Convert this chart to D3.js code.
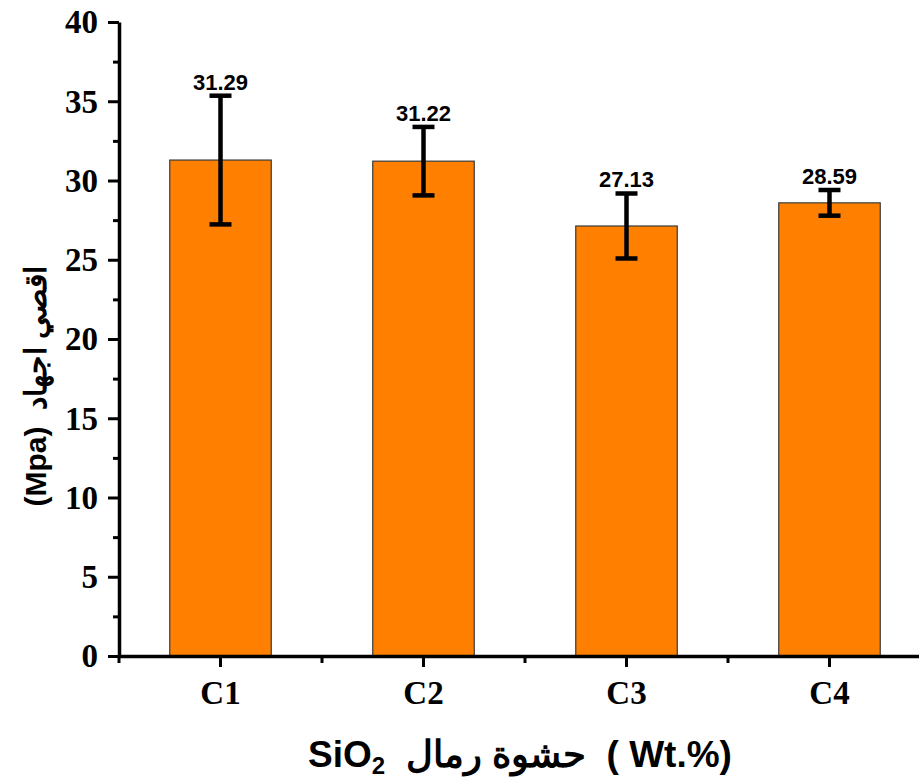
<!DOCTYPE html>
<html>
<head>
<meta charset="utf-8">
<script src="https://cdn.jsdelivr.net/npm/d3@7"></script>
<style>
  html, body { margin: 0; padding: 0; background: #fff; }
  svg { display: block; }
</style>
</head>
<body>
<svg id="chart" width="919" height="782"></svg>
<script>
// ---- data ----
const categories = ["C1", "C2", "C3", "C4"];
const values = [31.29, 31.22, 27.13, 28.59];
const errors = [4.06, 2.16, 2.05, 0.81];
const valueLabels = ["31.29", "31.22", "27.13", "28.59"];
const yTicks = [0, 5, 10, 15, 20, 25, 30, 35, 40];
const yMinorTicks = [2.5, 7.5, 12.5, 17.5, 22.5, 27.5, 32.5, 37.5];
const xTitleArabic = "حشوة رمال";
const yTitleArabic = "اقصي اجهاد";

// ---- layout ----
const svg = d3.select("#chart");
const x = d3.scaleBand().domain(categories).range([119, 931]).paddingInner(0.5).paddingOuter(0.25);
const y = d3.scaleLinear().domain([0, 40]).range([656, 22]);
const barColor = "#ff8000";

// bars
svg.append("g").selectAll("rect").data(categories).join("rect")
  .attr("x", d => x(d))
  .attr("y", (d, i) => y(values[i]))
  .attr("width", x.bandwidth())
  .attr("height", (d, i) => y(0) - y(values[i]))
  .attr("fill", barColor)
  .attr("stroke", "#3a3a3a")
  .attr("stroke-width", 1.2);

// error bars
const eg = svg.append("g").attr("stroke", "#000").attr("stroke-width", 4.5);
categories.forEach((c, i) => {
  const cx = x(c) + x.bandwidth() / 2;
  const top = y(values[i] + errors[i]);
  const bot = y(values[i] - errors[i]);
  eg.append("line").attr("x1", cx).attr("x2", cx).attr("y1", top).attr("y2", bot);
  eg.append("line").attr("x1", cx - 11).attr("x2", cx + 11).attr("y1", top).attr("y2", top);
  eg.append("line").attr("x1", cx - 11).attr("x2", cx + 11).attr("y1", bot).attr("y2", bot);
});

// value labels
svg.append("g").selectAll("text").data(categories).join("text")
  .attr("x", d => x(d) + x.bandwidth() / 2)
  .attr("y", (d, i) => y(values[i] + errors[i]) - 6)
  .attr("text-anchor", "middle")
  .attr("font-family", "'Liberation Sans', Arial, sans-serif")
  .attr("font-weight", "bold")
  .attr("font-size", 22)
  .attr("fill", "#000")
  .text((d, i) => valueLabels[i]);

// y axis (minor)
const yMinor = svg.append("g").attr("transform", "translate(119,0)")
  .call(d3.axisLeft(y).tickValues(yMinorTicks).tickSize(6).tickSizeOuter(0).tickFormat(""));
yMinor.select(".domain").remove();
yMinor.selectAll("line").attr("stroke-width", 3);

// y axis (major)
const yAxis = svg.append("g").attr("transform", "translate(119,0)")
  .call(d3.axisLeft(y).tickValues(yTicks).tickSize(11).tickSizeOuter(0).tickPadding(10));
yAxis.select(".domain").attr("stroke-width", 3.5);
yAxis.selectAll("line").attr("stroke-width", 3);
yAxis.selectAll("text")
  .attr("font-family", "'Liberation Serif', 'Times New Roman', serif")
  .attr("font-weight", "bold")
  .attr("font-size", 33)
  .attr("dy", "0.33em")
  .attr("fill", "#000");

// x axis minor ticks at band boundaries
const xMinor = [0, 1, 2, 3, 4].map(k => x.range()[0] + k * x.step());
svg.append("g").selectAll("line").data(xMinor).join("line")
  .attr("x1", d => d).attr("x2", d => d)
  .attr("y1", y(0)).attr("y2", y(0) + 7)
  .attr("stroke", "#000").attr("stroke-width", 3);

// x axis
const xAxis = svg.append("g").attr("transform", `translate(0,${y(0)})`)
  .call(d3.axisBottom(x).tickSize(11).tickSizeOuter(0).tickPadding(14));
xAxis.select(".domain").attr("stroke-width", 3.5);
xAxis.selectAll("line").attr("stroke-width", 3);
xAxis.selectAll("text")
  .attr("font-family", "'Liberation Serif', 'Times New Roman', serif")
  .attr("font-weight", "bold")
  .attr("font-size", 33)
  .attr("fill", "#000");

// x title
const xt = svg.append("text")
  .attr("x", 520).attr("y", 767)
  .attr("text-anchor", "middle")
  .attr("direction", "ltr")
  .attr("font-family", "'Liberation Sans', Arial, sans-serif")
  .attr("font-weight", "bold")
  .attr("font-size", 37)
  .attr("fill", "#000");
xt.append("tspan").text("SiO");
xt.append("tspan").attr("font-size", 24).attr("dy", 7).text("2");
xt.append("tspan").attr("dy", -7).text("\u00a0 " + xTitleArabic + " \u00a0( Wt.%)");

// y title
svg.append("text")
  .attr("transform", "translate(46,386) rotate(-90)")
  .attr("text-anchor", "middle")
  .attr("direction", "ltr")
  .attr("font-family", "'Liberation Sans', Arial, sans-serif")
  .attr("font-weight", "bold")
  .attr("font-size", 30)
  .attr("fill", "#000")
  .text("(Mpa)\u00a0 " + yTitleArabic);
</script>
</body>
</html>
